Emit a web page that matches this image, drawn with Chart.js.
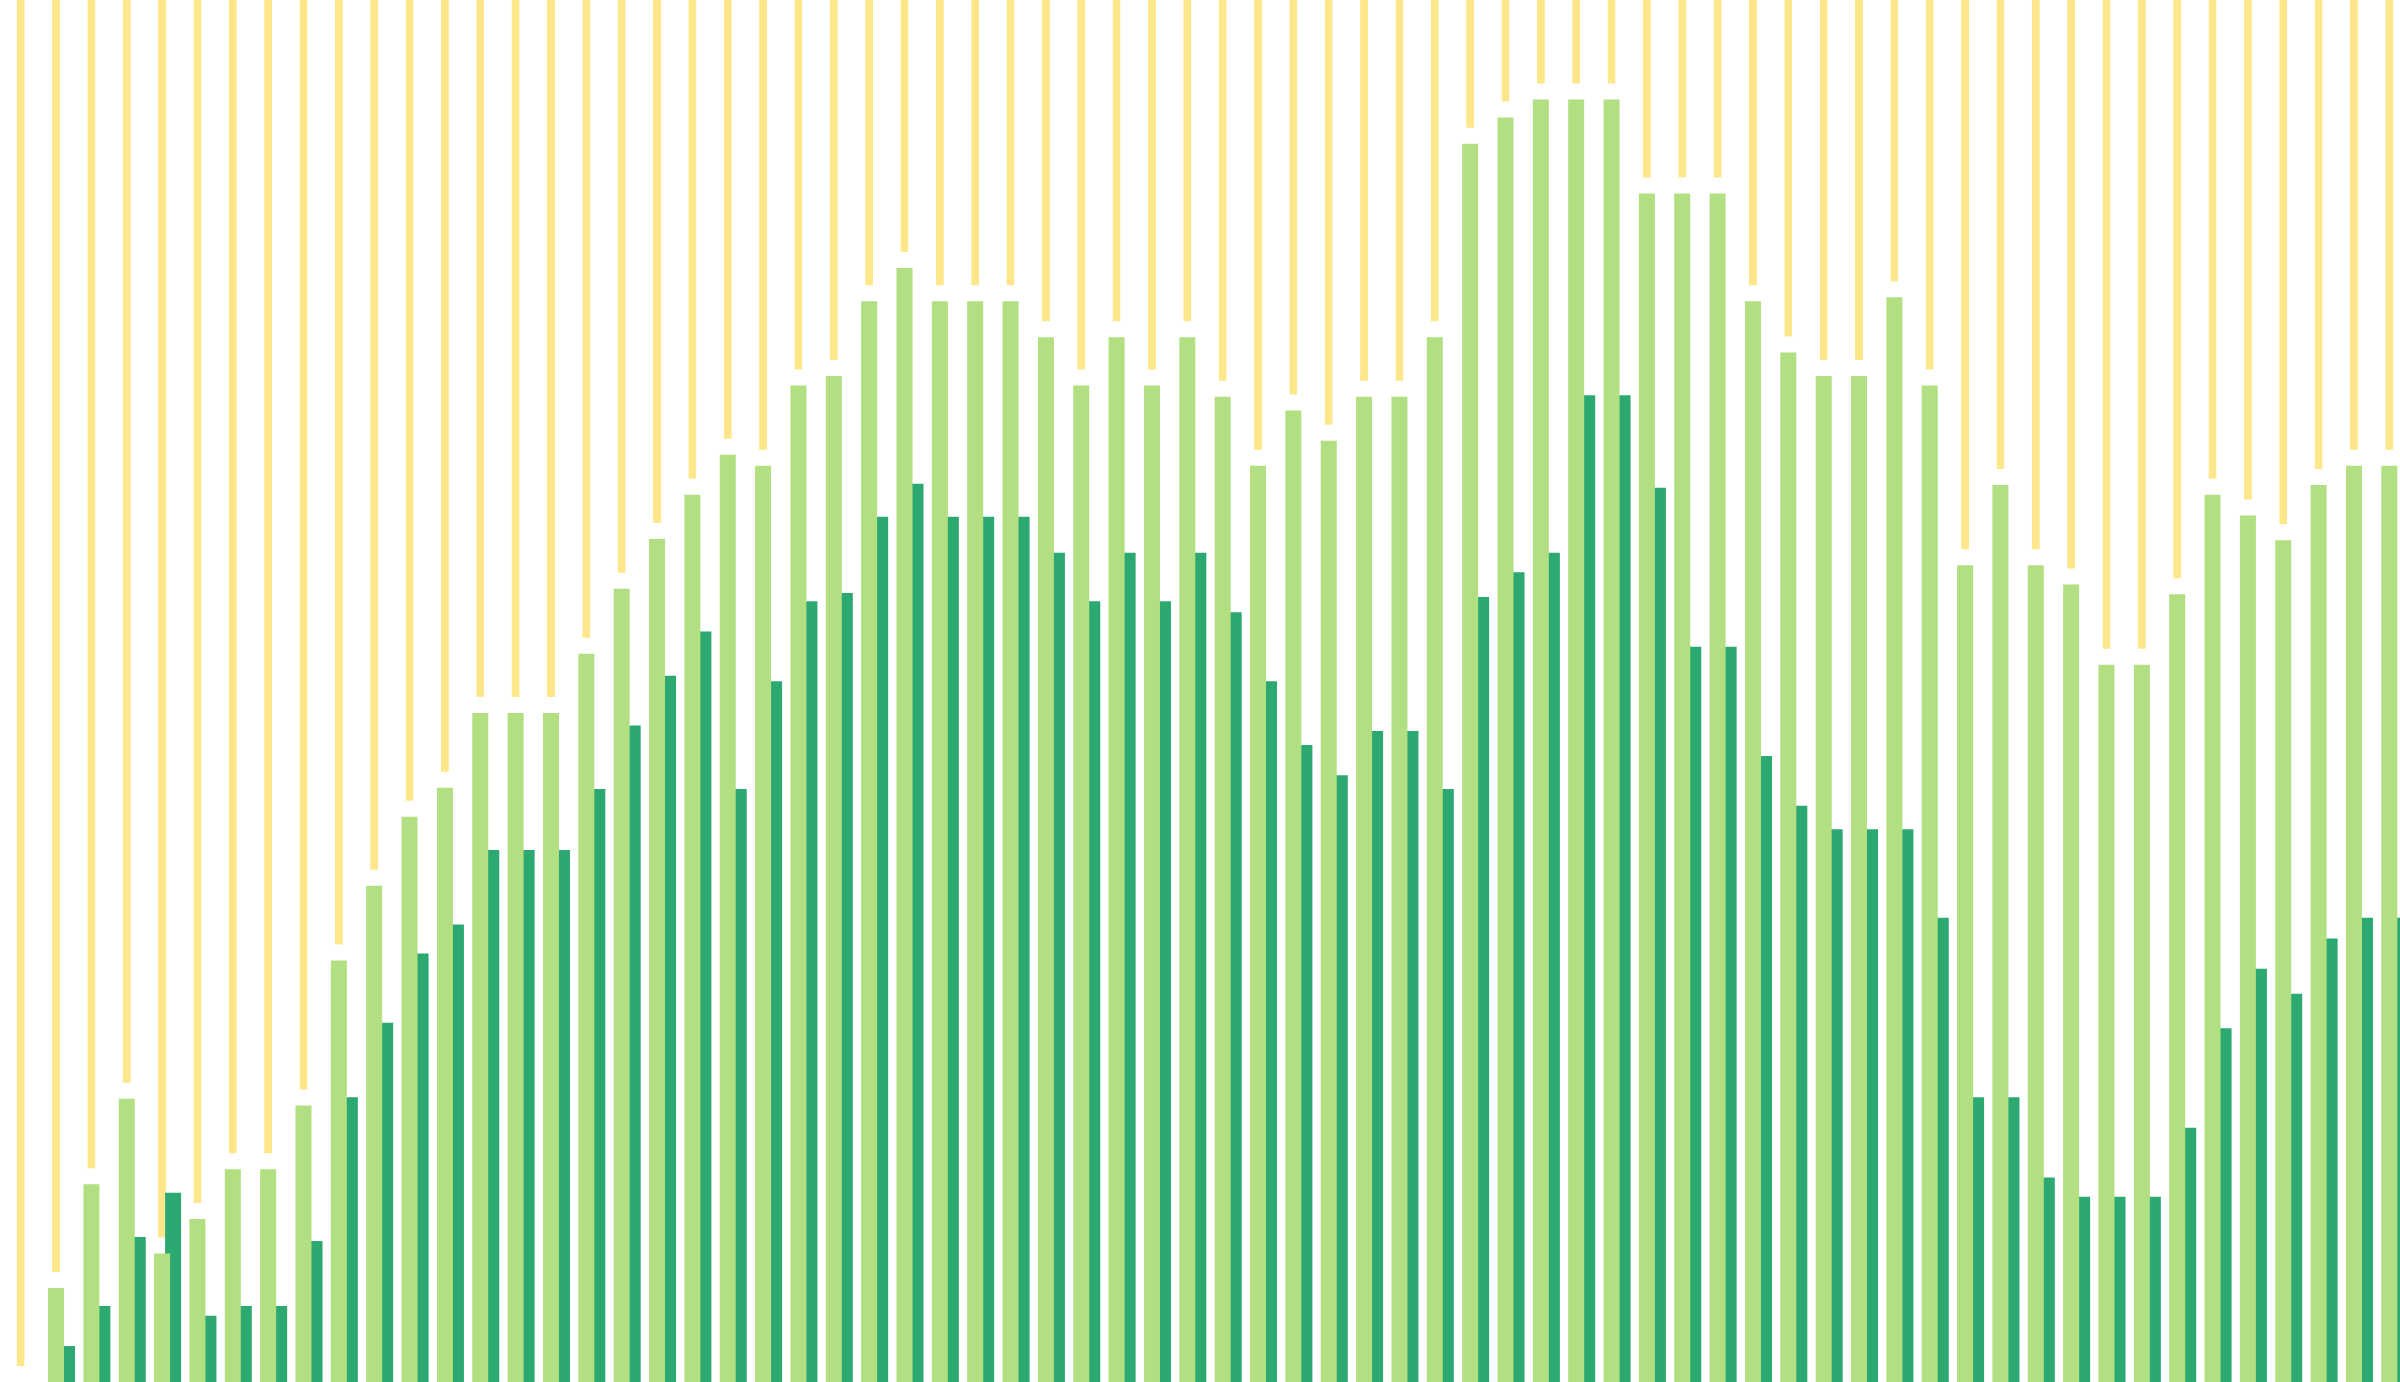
<!DOCTYPE html>
<html>
<head>
<meta charset="utf-8">
<title>Bars</title>
<script src="https://cdn.jsdelivr.net/npm/chart.js@4.4.1/dist/chart.umd.min.js"></script>
<style>
    html, body {
        margin: 0;
        padding: 0;
        background: #ffffff;
        overflow: hidden;
    }
    #wrap {
        position: absolute;
        left: 11px;
        top: 0;
        width: 2404px;
        height: 1382px;
    }
</style>
</head>
<body>
<div id="wrap"><canvas id="barChart" width="2404" height="1382"></canvas></div>
<script>
const categories = [
    1, 2, 3, 4, 5, 6, 7, 8, 9, 10, 11, 12, 13, 14, 15, 16, 17,
    18, 19, 20, 21, 22, 23, 24, 25, 26, 27, 28, 29, 30, 31, 32, 33, 34,
    35, 36, 37, 38, 39, 40, 41, 42, 43, 44, 45, 46, 47, 48, 49, 50, 51,
    52, 53, 54, 55, 56, 57, 58, 59, 60, 61, 62, 63, 64, 65, 66, 67, 68
];

// light green bars
const seriesA = [
    0, 6.8, 14.3, 20.5, 9.3, 11.8, 15.4, 15.4, 20.0, 30.5, 35.9, 40.9, 43.0, 48.4, 48.4, 48.4, 52.7,
    57.4, 61.0, 64.2, 67.1, 66.3, 72.1, 72.8, 78.2, 80.6, 78.2, 78.2, 78.2, 75.6, 72.1, 75.6, 72.1, 75.6,
    71.3, 66.3, 70.3, 68.1, 71.3, 71.3, 75.6, 89.6, 91.5, 92.8, 92.8, 92.8, 86.0, 86.0, 86.0, 78.2, 74.5,
    72.8, 72.8, 78.5, 72.1, 59.1, 64.9, 59.1, 57.7, 51.9, 51.9, 57.0, 64.2, 62.7, 60.9, 64.9, 66.3, 66.3
];

// dark green bars
const seriesB = [
    0, 2.6, 5.5, 10.5, 13.7, 4.8, 5.5, 5.5, 10.2, 20.6, 26.0, 31.0, 33.1, 38.5, 38.5, 38.5, 42.9,
    47.5, 51.1, 54.3, 42.9, 50.7, 56.5, 57.1, 62.6, 65.0, 62.6, 62.6, 62.6, 60.0, 56.5, 60.0, 56.5, 60.0,
    55.7, 50.7, 46.1, 43.9, 47.1, 47.1, 42.9, 56.8, 58.6, 60.0, 71.4, 71.4, 64.7, 53.2, 53.2, 45.3, 41.7,
    40.0, 40.0, 40.0, 33.6, 20.6, 20.6, 14.8, 13.4, 13.4, 13.4, 18.4, 25.6, 29.9, 28.1, 32.1, 33.6, 33.6
];

// yellow remainder stacked on the light green bars
const seriesRest = [
    100, 93.2, 85.7, 79.5, 90.7, 88.2, 84.6, 84.6, 80.0, 69.5, 64.1, 59.1, 57.0, 51.6, 51.6, 51.6, 47.3,
    42.6, 39.0, 35.8, 32.9, 33.7, 27.9, 27.2, 21.8, 19.4, 21.8, 21.8, 21.8, 24.4, 27.9, 24.4, 27.9, 24.4,
    28.7, 33.7, 29.7, 31.9, 28.7, 28.7, 24.4, 10.4, 8.5, 7.2, 7.2, 7.2, 14.0, 14.0, 14.0, 21.8, 25.5,
    27.2, 27.2, 21.5, 27.9, 40.9, 35.1, 40.9, 42.3, 48.1, 48.1, 43.0, 35.8, 37.3, 39.1, 35.1, 33.7, 33.7
];

const COLOR_A = '#b1df81';
const COLOR_B = '#2ca871';
const COLOR_REST = '#fee78a';

const ctx = document.getElementById('barChart').getContext('2d');
new Chart(ctx, {
    type: 'bar',
    data: {
        labels: categories,
        datasets: [
            {
                data: seriesA,
                stack: 'a',
                backgroundColor: COLOR_A,
                borderWidth: 0,
                categoryPercentage: 0.9054,
                barPercentage: 1
            },
            {
                data: seriesB,
                stack: 'b',
                backgroundColor: COLOR_B,
                borderWidth: 0,
                categoryPercentage: 0.3395,
                barPercentage: 2.6667
            },
            {
                data: seriesRest,
                stack: 'a',
                backgroundColor: COLOR_REST,
                borderColor: '#ffffff',
                borderWidth: { top: 0, right: 0, bottom: 16, left: 0 },
                borderSkipped: false,
                categoryPercentage: 0.9054,
                barPercentage: 0.5
            }
        ]
    },
    options: {
        responsive: false,
        devicePixelRatio: 1,
        animation: false,
        layout: {
            padding: 0
        },
        scales: {
            x: {
                display: false,
                offset: true,
                grid: { display: false }
            },
            y: {
                display: false,
                stacked: true,
                min: 0,
                max: 100,
                grid: { display: false }
            }
        },
        plugins: {
            legend: { display: false },
            tooltip: { enabled: false }
        }
    }
});
</script>
</body>
</html>
